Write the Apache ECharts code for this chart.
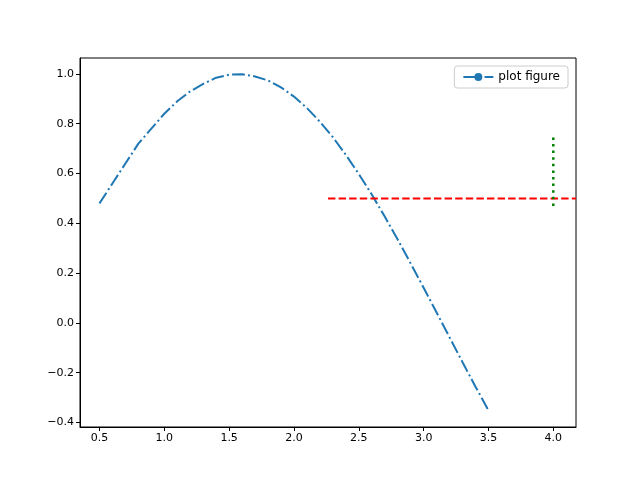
<!DOCTYPE html>
<html>
<head>
<meta charset="utf-8">
<script src="https://cdn.jsdelivr.net/npm/echarts@6/dist/echarts.min.js"></script>
<style>html,body{margin:0;padding:0;background:#fff}#c{width:640px;height:480px}</style>
</head>
<body>
<div id="c"></div>
<script>
// values
const xs = [0.5,0.6,0.7,0.8,0.9,1.0,1.1,1.2,1.3,1.4,1.5,1.6,1.7,1.8,1.9,2.0,2.1,2.2,2.3,2.4,2.5,2.6,2.7,2.8,2.9,3.0,3.1,3.2,3.3,3.4,3.5];
const ys = [0.48,0.56,0.64,0.72,0.78,0.84,0.89,0.93,0.96,0.985,0.997,0.999,0.99,0.974,0.946,0.909,0.863,0.808,0.746,0.675,0.598,0.516,0.427,0.335,0.239,0.141,0.042,-0.058,-0.158,-0.256,-0.351];
const hLine = [[2.2625,0.5],[4.175,0.5]];
const vLine = [[4.0,0.47],[4.0,0.76]];
const xTicks = [0.5,1.0,1.5,2.0,2.5,3.0,3.5,4.0];
const yTicks = [-0.4,-0.2,0.0,0.2,0.4,0.6,0.8,1.0];

const chart = echarts.init(document.getElementById('c'));
const lbl = {color:'#000',fontSize:11,fontFamily:'DejaVu Sans'};
chart.setOption({
  animation:false,
  grid:{left:80,right:64,top:58,bottom:53,show:true,borderColor:'#000',borderWidth:1},
  legend:{data:['plot figure'],right:72,top:66,orient:'vertical',
    backgroundColor:'#fff',borderColor:'#ccc',borderWidth:1,borderRadius:3,padding:[5,8],
    itemWidth:30,itemHeight:10,textStyle:{fontSize:12,fontFamily:'DejaVu Sans',color:'#000'}},
  xAxis:{type:'value',min:0.35,max:4.175,splitLine:{show:false},
    axisLine:{show:true,onZero:false,lineStyle:{color:'#000'}},
    axisTick:{show:true,length:4,lineStyle:{color:'#000'},customValues:xTicks},
    axisLabel:Object.assign({customValues:xTicks,formatter:v=>v.toFixed(1),margin:6},lbl)},
  yAxis:{type:'value',min:-0.418,max:1.064,splitLine:{show:false},
    axisLine:{show:true,onZero:false,lineStyle:{color:'#000'}},
    axisTick:{show:true,length:4,lineStyle:{color:'#000'},customValues:yTicks},
    axisLabel:Object.assign({customValues:yTicks,formatter:v=>v.toFixed(1).replace('-','\u2212'),margin:6},lbl)},
  series:[
    {name:'plot figure',type:'line',data:xs.map((x,i)=>[x,ys[i]]),symbol:'none',
      color:'#1f77b4',lineStyle:{width:2,type:[12.8,3.2,2,3.2]}},
    {name:'h',type:'line',data:hLine,symbol:'none',color:'#ff0000',lineStyle:{width:2,type:[7.4,3.2]}},
    {name:'v',type:'line',data:vLine,symbol:'none',color:'#008000',lineStyle:{width:2.5,type:[2.5,4.1]}}
  ]
});
</script>
</body>
</html>
